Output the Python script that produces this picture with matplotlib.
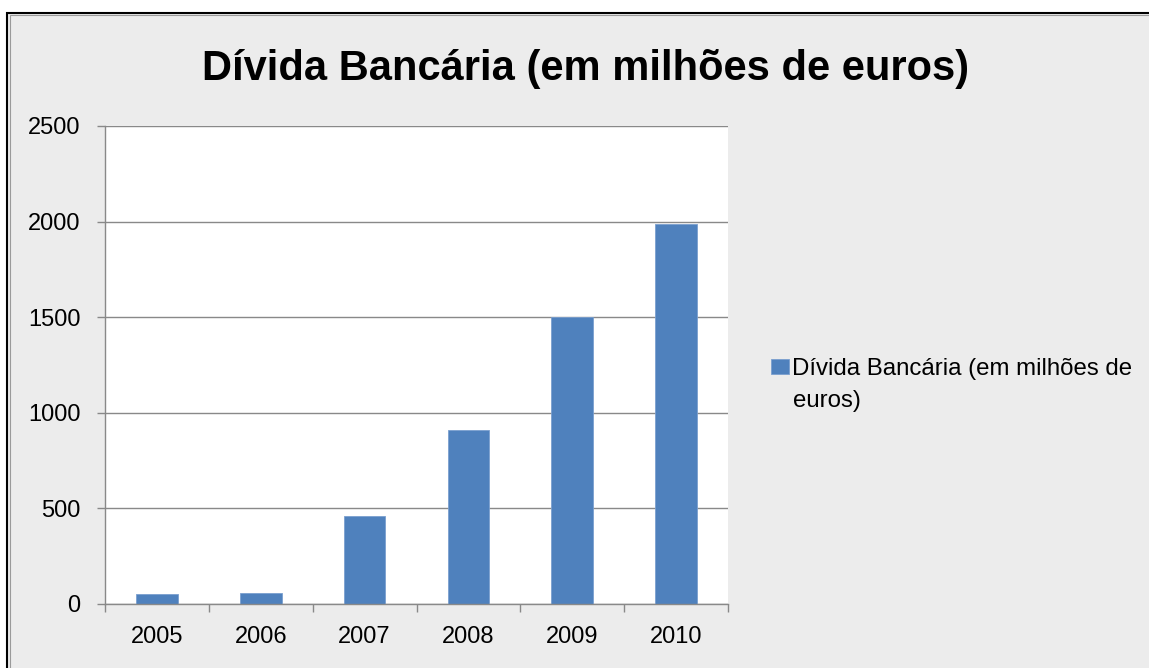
import matplotlib.pyplot as plt
from matplotlib.patches import Rectangle, Patch

# data
anos = ['2005', '2006', '2007', '2008', '2009', '2010']
divida = [50, 60, 460, 910, 1500, 1990]
serie_label = 'Dívida Bancária (em milhões de euros)'
titulo = 'Dívida Bancária (em milhões de euros)'

plt.rcParams['font.family'] = ['Liberation Sans', 'DejaVu Sans']

W, H = 1149, 668
fig = plt.figure(figsize=(W / 100, H / 100), dpi=100, facecolor='white')

# chart area background with black frame (cut at right / bottom)
fig.patches.append(Rectangle((7 / W, -0.05), 1.2, (H - 13) / H + 0.05,
                             transform=fig.transFigure, facecolor='#ececec',
                             edgecolor='black', linewidth=1.5, zorder=-10))
fig.patches.append(Rectangle((9.5 / W, -0.05), 1.2, (H - 15.5) / H + 0.05,
                             transform=fig.transFigure, facecolor='none',
                             edgecolor='#9a9a9a', linewidth=0.8, zorder=-9))

ax = fig.add_axes([105 / W, 1 - 604 / H, 623 / W, 478 / H])
ax.set_zorder(1)
ax.set_facecolor('white')

x = list(range(len(anos)))
ax.bar(x, divida, width=0.4, color='#4f81bd', edgecolor='#7a9fcf',
       linewidth=0.6, zorder=3)

ax.set_xlim(-0.5, len(anos) - 0.5)
ax.set_ylim(0, 2500)
ax.set_yticks(range(0, 2501, 500))
ax.set_xticks(x)
ax.set_xticklabels(anos)
ax.set_xticks([i - 0.5 for i in range(len(anos) + 1)], minor=True)

grid_c = '#898989'
ax.yaxis.grid(True, color=grid_c, linewidth=1.0, zorder=1)
ax.xaxis.grid(False)
for s in ['top', 'right']:
    ax.spines[s].set_visible(False)
for s in ['left', 'bottom']:
    ax.spines[s].set_color(grid_c)
    ax.spines[s].set_linewidth(1.0)
    ax.spines[s].set_zorder(4)

ax.tick_params(axis='x', which='major', length=0, pad=16, labelsize=17,
               labelcolor='black')
ax.tick_params(axis='x', which='minor', length=5.8, width=1.0, color=grid_c,
               direction='out')
ax.tick_params(axis='y', which='major', length=5.8, width=1.0, color=grid_c,
               pad=12, labelsize=17, labelcolor='black')

fig.text(586 / W, 1 - 80 / H, titulo, ha='center', va='baseline',
         fontsize=30, fontweight='bold', color='black')

# legend: square marker on the first line, label wraps onto a second line
linha1, linha2 = serie_label.rsplit(' ', 1)
leg = fig.legend(handles=[Patch(facecolor='#4f81bd', edgecolor='#7a9fcf',
                                linewidth=0.6, label=linha1)],
                 loc='center left', bbox_to_anchor=(771 / W, 1 - 369 / H),
                 frameon=False, fontsize=17.3, borderpad=0, borderaxespad=0,
                 handlelength=0.73, handleheight=0.6, handletextpad=0.16)
fig.text(792.7 / W, 1 - 406.7 / H, linha2, ha='left', va='baseline',
         fontsize=17.3, color='black')

fig.savefig('out.png', dpi=100, facecolor='white')
